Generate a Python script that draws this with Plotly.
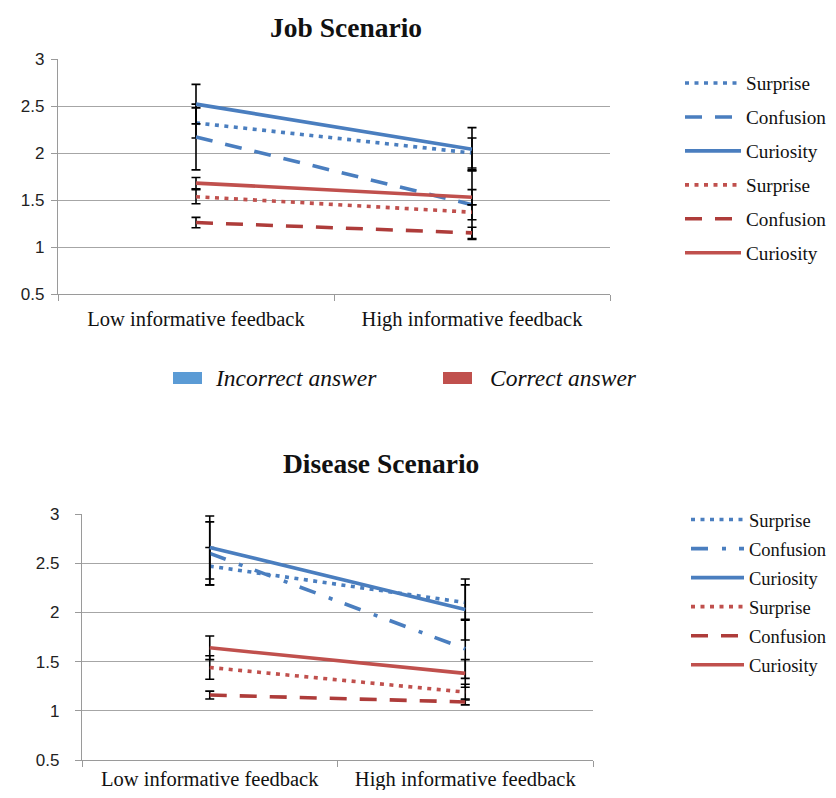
import plotly.graph_objects as go

categories = ["Low informative feedback", "High informative feedback"]
emotions = ["Surprise", "Confusion", "Curiosity"]

# Job scenario
job_incorrect = {"Surprise": [2.32, 2.00], "Confusion": [2.17, 1.45], "Curiosity": [2.52, 2.04]}
job_incorrect_err = {"Surprise": [0.16, 0.16], "Confusion": [0.35, 0.37], "Curiosity": [0.21, 0.23]}
job_correct = {"Surprise": [1.535, 1.37], "Confusion": [1.26, 1.15], "Curiosity": [1.68, 1.53]}
job_correct_err = {"Surprise": [0.075, 0.08], "Confusion": [0.055, 0.06], "Curiosity": [0.06, 0.08]}

# Disease scenario
dis_incorrect = {"Surprise": [2.47, 2.10], "Confusion": [2.60, 1.63], "Curiosity": [2.66, 2.03]}
dis_incorrect_err = {"Surprise": [0.19, 0.18], "Confusion": [0.32, 0.30], "Curiosity": [0.32, 0.31]}
dis_correct = {"Surprise": [1.44, 1.19], "Confusion": [1.16, 1.09], "Curiosity": [1.64, 1.38]}
dis_correct_err = {"Surprise": [0.12, 0.08], "Confusion": [0.04, 0.03], "Curiosity": [0.12, 0.14]}

y_ticks = [0.5, 1, 1.5, 2, 2.5, 3]
answer_labels = ["Incorrect answer", "Correct answer"]

BLUE = "#4A7EBF"
RED = "#C0504D"
DRED = "#AE3C3A"
DOT = "4px,5.5px"
DASH = "17px,13px"
DASHDOT = "17px,14px,4px,13px"

# page has an 8px body margin; figure sized so the page fits 836x798
W, H = 828, 782
OFF = 8
fig = go.Figure()


def px_x(v):
    return (v - OFF) / W


def px_y(v):
    return 1 - (v - OFF) / H


panels = [
    dict(xa="x", ya="y", legend="legend", inc=job_incorrect, inc_e=job_incorrect_err,
         cor=job_correct, cor_e=job_correct_err, conf_dash_blue=DASH),
    dict(xa="x2", ya="y2", legend="legend2", inc=dis_incorrect, inc_e=dis_incorrect_err,
         cor=dis_correct, cor_e=dis_correct_err, conf_dash_blue=DASHDOT),
]

for p in panels:
    for grp, data, errs in [("inc", p["inc"], p["inc_e"]), ("cor", p["cor"], p["cor_e"])]:
        for emo in emotions:
            if grp == "inc":
                color = BLUE
                dash = {"Surprise": DOT, "Confusion": p["conf_dash_blue"], "Curiosity": "solid"}[emo]
            else:
                color = DRED if emo == "Confusion" else RED
                dash = {"Surprise": DOT, "Confusion": DASH, "Curiosity": "solid"}[emo]
            fig.add_trace(go.Scatter(
                x=categories, y=data[emo], mode="lines", name=emo,
                xaxis=p["xa"], yaxis=p["ya"], legend=p["legend"],
                legendgroup=p["legend"] + grp + emo,
                line=dict(color=color, width=3.6, dash=dash),
                error_y=dict(type="data", array=errs[emo], color="black", thickness=1.6, width=4.5),
            ))

axis_common = dict(showline=True, linecolor="#9a9a9a", linewidth=1.2, automargin=False)


def yaxis_cfg(standoff):
    return dict(range=[0.5, 3], tickvals=y_ticks, ticktext=[f"{t:g}" for t in y_ticks],
                showgrid=True, gridcolor="#a6a6a6", gridwidth=1.2, zeroline=False,
                ticks="outside", ticklen=6, tickcolor="#9a9a9a", ticklabelstandoff=standoff,
                tickfont=dict(family="Liberation Sans", size=17, color="#222"),
                **axis_common)


def xaxis_cfg(standoff):
    return dict(type="category", range=[-0.5, 1.5], tickson="boundaries",
                ticks="outside", ticklen=6, tickcolor="#9a9a9a", showgrid=False,
                ticklabelstandoff=standoff,
                tickfont=dict(family="Liberation Serif", size=20.5, color="#111"),
                **axis_common)


fig.update_layout(
    width=W, height=H, margin=dict(l=0, r=0, t=0, b=0, autoexpand=False),
    paper_bgcolor="white", plot_bgcolor="white", showlegend=True,
    xaxis=dict(domain=[px_x(58), px_x(610)], anchor="y", **xaxis_cfg(6)),
    yaxis=dict(domain=[px_y(294), px_y(59)], anchor="x", **yaxis_cfg(3)),
    xaxis2=dict(domain=[px_x(82), px_x(593)], anchor="y2", **xaxis_cfg(0)),
    yaxis2=dict(domain=[px_y(760), px_y(514)], anchor="x2", **yaxis_cfg(12)),
    legend=dict(x=px_x(680), y=px_y(64), xanchor="left", yanchor="top",
                traceorder="grouped", tracegroupgap=6, itemwidth=56,
                font=dict(family="Liberation Serif", size=19.2, color="#111"),
                bgcolor="rgba(0,0,0,0)"),
    legend2=dict(x=px_x(686), y=px_y(501), xanchor="left", yanchor="top",
                 traceorder="grouped", tracegroupgap=2, itemwidth=53,
                 font=dict(family="Liberation Serif", size=18.5, color="#111"),
                 bgcolor="rgba(0,0,0,0)"),
)

fig.add_annotation(text="<b>Job Scenario</b>", x=px_x(346), y=px_y(27), xref="paper", yref="paper",
                   xanchor="center", yanchor="middle", showarrow=False,
                   font=dict(family="Liberation Serif", size=27.5, color="#111"))
fig.add_annotation(text="<b>Disease Scenario</b>", x=px_x(381), y=px_y(463), xref="paper", yref="paper",
                   xanchor="center", yanchor="middle", showarrow=False,
                   font=dict(family="Liberation Serif", size=27.5, color="#111"))

# Answer-type legend (colored squares + labels)
for (x0, label, color, tx) in [(173, answer_labels[0], "#5B9BD5", 213), (443, answer_labels[1], RED, 488)]:
    fig.add_shape(type="rect", xref="paper", yref="paper",
                  x0=px_x(x0), x1=px_x(x0 + 29), y0=px_y(384), y1=px_y(372),
                  fillcolor=color, line=dict(width=0))
    fig.add_annotation(text=f"<i>{label}</i>", x=px_x(tx), y=px_y(378), xref="paper", yref="paper",
                       xanchor="left", yanchor="middle", showarrow=False,
                       font=dict(family="Liberation Serif", size=23.5, color="#111"))

fig.write_html("out.html")
